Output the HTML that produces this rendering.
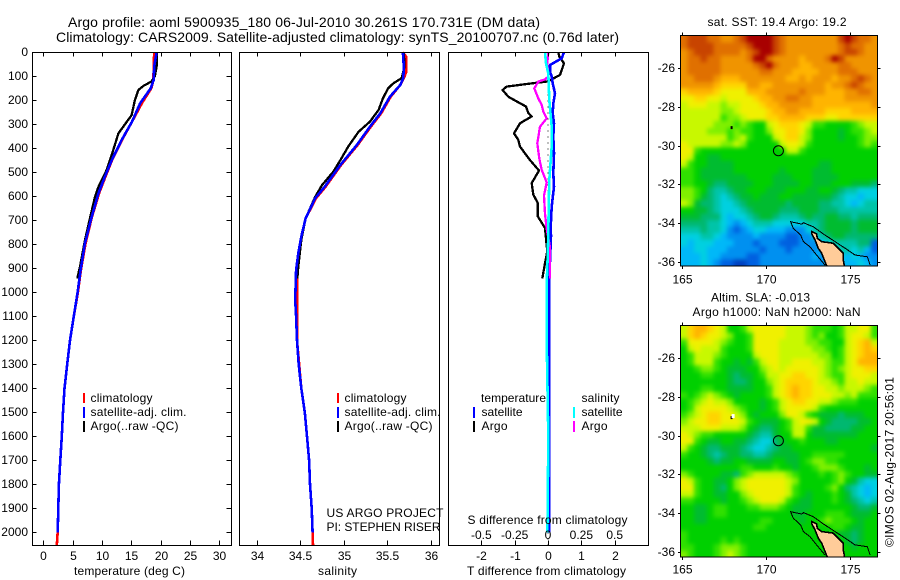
<!DOCTYPE html>
<html lang="en">
<head>
<meta charset="utf-8">
<title>Argo profile</title>
<style>
html,body{margin:0;padding:0;background:#fff;}
svg{display:block;}
text{font-family:"Liberation Sans",sans-serif;font-size:12px;fill:#000;}
</style>
</head>
<body>
<svg id="fig" xmlns="http://www.w3.org/2000/svg" width="900" height="580" viewBox="0 0 900 580">
<defs>
<clipPath id="clip-sst"><rect x="681" y="35.7" width="196.3" height="230.3"/></clipPath>
<clipPath id="clip-sla"><rect x="681" y="325.7" width="196.3" height="231.3"/></clipPath>
<filter id="field-soften" color-interpolation-filters="sRGB" x="-5%" y="-5%" width="110%" height="110%"><feGaussianBlur stdDeviation="2"/></filter>
</defs>
<text x="68" y="27" style="font-size:14px" textLength="472" lengthAdjust="spacing">Argo profile: aoml 5900935_180 06-Jul-2010 30.261S 170.731E (DM data)</text>
<text x="56" y="42" style="font-size:14px" textLength="563" lengthAdjust="spacing">Climatology: CARS2009. Satellite-adjusted climatology: synTS_20100707.nc (0.76d later)</text>
<g id="layer-maps"></g>
<g id="layer-lines"></g>
<g id="layer-axes"></g>

<text x="74" y="575" textLength="111" lengthAdjust="spacing">temperature (deg C)</text>
<text x="318" y="575" textLength="39" lengthAdjust="spacing">salinity</text>
<text x="467" y="575" textLength="159" lengthAdjust="spacing">T difference from climatology</text>
<text x="467.5" y="524" textLength="160" lengthAdjust="spacing">S difference from climatology</text>

<g>
<rect x="83" y="393" width="2" height="10" fill="#f00"/>
<text x="90.5" y="402" textLength="62" lengthAdjust="spacing">climatology</text>
<rect x="83" y="407" width="2" height="11" fill="#00f"/>
<text x="90.5" y="416" textLength="96" lengthAdjust="spacing">satellite-adj. clim.</text>
<rect x="83" y="421" width="2" height="11" fill="#000"/>
<text x="90.5" y="430" textLength="88" lengthAdjust="spacing">Argo(..raw -QC)</text>
</g>
<g>
<rect x="337" y="393" width="2" height="10" fill="#f00"/>
<text x="344.5" y="402" textLength="62" lengthAdjust="spacing">climatology</text>
<rect x="337" y="407" width="2" height="11" fill="#00f"/>
<text x="344.5" y="416" textLength="96" lengthAdjust="spacing">satellite-adj. clim.</text>
<rect x="337" y="421" width="2" height="11" fill="#000"/>
<text x="344.5" y="430" textLength="88" lengthAdjust="spacing">Argo(..raw -QC)</text>
</g>
<text x="326.5" y="517" textLength="117" lengthAdjust="spacing">US ARGO PROJECT</text>
<text x="326.5" y="531" textLength="114" lengthAdjust="spacing">PI: STEPHEN RISER</text>

<g>
<text x="481" y="402" textLength="65" lengthAdjust="spacing">temperature</text>
<text x="581.5" y="402" textLength="38" lengthAdjust="spacing">salinity</text>
<rect x="473" y="407" width="2" height="11" fill="#00f"/>
<text x="481.5" y="416" textLength="41" lengthAdjust="spacing">satellite</text>
<rect x="473" y="421" width="2" height="11" fill="#000"/>
<text x="481.5" y="430" textLength="26" lengthAdjust="spacing">Argo</text>
<rect x="573" y="407" width="2" height="11" fill="#0ff"/>
<text x="581.5" y="416" textLength="41" lengthAdjust="spacing">satellite</text>
<rect x="573" y="421" width="2" height="11" fill="#f0f"/>
<text x="581.5" y="430" textLength="26" lengthAdjust="spacing">Argo</text>
</g>

<text x="707.5" y="26" textLength="139" lengthAdjust="spacing">sat. SST: 19.4  Argo: 19.2</text>
<text x="711" y="301.5" textLength="99" lengthAdjust="spacing">Altim. SLA: -0.013</text>
<text x="692.5" y="316" textLength="168" lengthAdjust="spacing">Argo h1000: NaN h2000: NaN</text>
<text transform="translate(893.5,547) rotate(-90)" textLength="170" lengthAdjust="spacing">©IMOS 02-Aug-2017 20:56:01</text>
</svg>

<script>
// ---------- profile data (depth in m, temperature in deg C, salinity in psu) ----------
const depthTicks = [0,100,200,300,400,500,600,700,800,900,1000,1100,1200,1300,1400,1500,1600,1700,1800,1900,2000];
const tempTicks = [0,5,10,15,20,25,30];
const salTicks = [34,34.5,35,35.5,36];
const salTickLabels = ['34','34.5','35','35.5','36'];
const tDiffTicks = [-2,-1,0,1,2];
const sDiffTicks = [-0.5,-0.25,0,0.25,0.5];
const sDiffTickLabels = ['-0.5','-0.25','0','0.25','0.5'];
const lonTicks = [165,170,175];
const latTicks = [-26,-28,-30,-32,-34,-36];

const climTempDepth = [0,60,115,150,212,290,365,450,518,587,685,795,907,1000,1100,1200,1300,1400,1500,1600,1700,1800,1900,2000,2053];
const climTemp = [18.9,18.8,18.75,18.4,16.8,15.1,13.4,11.7,10.6,9.5,8.3,7.2,6.4,5.9,5.2,4.55,4.07,3.62,3.35,3.15,2.9,2.65,2.55,2.45,2.3];
const satTempDepth = [0,60,115,150,212,290,365,450,518,587,685,795,907,1000,1100,1200,1300,1400,1500,1600,1700,1800,1900,2000];
const satTemp = [19.3,18.9,18.8,18.3,16.5,15.1,13.35,11.65,10.5,9.4,8.25,7.1,6.35,5.85,5.2,4.55,4.07,3.62,3.35,3.15,2.9,2.65,2.55,2.45];
const argoTempDepth = [0,60,100,122,140,157,199,262,290,338,428,490,560,602,685,782,893,942];
const argoTemp = [19.3,19.3,19.0,18.4,17.05,16.2,15.6,15.05,14.2,12.8,11.65,10.8,9.4,8.8,8.0,7.1,6.25,5.8];

const climSalDepth = [0,20,80,108,136,185,254,310,386,469,560,608,692,768,837,907,1032,1200,1400,1500,1600,1700,1800,1900,2000,2053];
const climSal = [35.68,35.72,35.72,35.69,35.65,35.54,35.43,35.31,35.16,34.97,34.79,34.68,34.56,34.51,34.48,34.46,34.46,34.46,34.51,34.55,34.576,34.6,34.61,34.63,34.64,34.645];
const satSalDepth = [0,60,108,136,185,254,310,386,469,560,608,692,768,837,907,1032,1100,1200,1300,1400,1500,1600,1700,1800,1900,2000];
const satSal = [35.68,35.69,35.685,35.65,35.53,35.42,35.3,35.15,34.96,34.78,34.67,34.56,34.51,34.476,34.45,34.44,34.45,34.46,34.48,34.51,34.55,34.576,34.6,34.61,34.63,34.64];
const argoSalDepth = [0,60,108,129,150,192,240,289,331,393,449,497,553,602,692,782,893,942];
const argoSal = [35.69,35.7,35.665,35.57,35.51,35.45,35.4,35.3,35.17,35.05,34.96,34.88,34.75,34.67,34.56,34.51,34.476,34.465];

const argoTDiffDepth = [0,18,46,74,94,113,122,132,143,157,185,201,226,253,267,296,338,365,393,449,493,545,593,627,683,732,775,778,829,879,942];
const argoTDiff = [0.31,0.34,0.48,0.41,0.36,0.11,-0.04,-0.64,-1.24,-1.36,-1.19,-0.99,-0.66,-0.59,-0.49,-0.84,-1.02,-0.89,-0.84,-0.54,-0.27,-0.49,-0.44,-0.31,-0.31,-0.09,-0.06,-0.06,-0.02,-0.09,-0.17];
const satTDiffDepth = [0,25,53,81,101,129,171,213,254,296,351,421,504,560,643,726,764,868,1000,1200,1400,1700,2000];
const satTDiff = [0.48,0.41,0.06,0.06,0.11,0.14,0.21,0.16,0.14,0.18,0.16,0.18,0.16,0.18,0.11,0.08,0.09,0.06,0.03,0.03,0.03,0.04,0.04];
const argoSDiffDepth = [0,46,101,113,122,150,192,219,247,275,310,379,443,490,542,597,672,736,812,891,942];
const argoSDiff = [0.0025,-0.005,0.0025,-0.0225,-0.0725,-0.1025,-0.0725,-0.0475,-0.035,-0.01,-0.06,-0.08,-0.065,-0.0475,-0.01,-0.03,-0.0225,-0.01,0.015,0.015,0.015];
const satSDiffDepth = [0,46,88,199,310,393,532,643,755,851,962,1200,1600,1900,2000];
const satSDiff = [-0.0225,-0.015,0.0025,0.01,0.0275,0.0275,0.01,0.005,0.0025,-0.0025,-0.01,-0.01,0.0025,-0.0025,-0.005];

// ---------- satellite map grids: each letter is one colour level on the map scale ----------
const colourLevels = 'abcdefghijklmnopqrs';
const levelColours = ['#a80000','#c84400','#e07000','#f09400','#ffb400','#ffd400','#f0f000','#c8f800','#80f000','#30e000','#00d000','#00bc30','#00b870','#00c4a8','#00d0e0','#00b8f8','#0090f0','#0060e0','#0040c0'];
const sstRows = [
'cbbbccddcbaaaabcddddddddbabccd',
'cbbbbcccccbaaabcddddddddcbccdd',
'dcbbbccccdcbaabcddddddddcbbcdd',
'dccbccddddcaacddddedddcabdddd',
'dcccccdddddcbacdddeeddddccdddd',
'dcccccddddddccdddeeeedddcccdd',
'ddcccdeeedddddddeededddeddcbcd',
'dddddeffffddeeddddddddeddcbcd',
'feeeefggggeeedddddcdddeeeddccd',
'ggffgghggggfeeddccddeeeeedddd',
'hggghhihhgggfeedddddeeeeeeeeed',
'hhhhhhiihggggfeeddeeeeffffeeee',
'hhhhhhjiihgggffeeeefffggffffff',
'hhhhhiiijijkkhgfffghjjkkkkjihh',
'hhhhiiijijjkkiggffgikkkklkjjih',
'hhhhhhhjihjkkkhgffhikkkklkkjii',
'ghhhhhiihikkkkkhgghjkkkkkkkjij',
'ggjkkkkkkkkkkkkkhhjkkkkkkkkkkk',
'ghkkllkkkkkkkkkkkkkkkkkkkkkkkk',
'hjkkllllkkkkkkkkkkkkkllkkkkkkk',
'jjklllllkkkkkkklkkkklllkkkkkkk',
'jjklllllllkkkklllkkkllllkkkkkk',
'jjkklmmllllkkkllllkklllkkklllm',
'iijkmnnmllkkklllkkkllkklmnnoo',
'iijlmnonmllklllkkllllllmnoopo',
'hilmmnoonmllllllmllllmmnnoponn',
'kkllmnooonmllllmmmlllmmmnnnnnn',
'lllmmmopoonmllmnnnmlmmllmmnmmm',
'mmmmnnopqponnnooooonnmllllmlll',
'nnnmnnoqrqpoopppqqqonmllllmlll',
'ooonnopqqqqpqqqqrrqqonmllmmmmm',
'opooopppqqqrqqqrrrqqqponnnnmmr',
'ppoopppqqqqqrqqqrqqqqpoonnonpr',
'pppoppqqqqrrqqqqqqqqpqooopopq',
'pppopqrrssrrqqqqqqqqqqpppppopq'
];
const slaRows = [
'hfeefghkkjhggggghhhijjjkjhhggj',
'hfefgghikkjggggghhhijikkjhgghj',
'jgggghijkkjgggghhhhiijjkkhgfeh',
'khghhhjkkkjgggghhhhhiijkjhgfef',
'kjhhhijkkkkhggghhhhhhiikjhgfee',
'kjhhhjkklkljhgghhggghhijjhgeee',
'kkjiijklllkkihghggggghijihggff',
'kkkjjkklmllkjhhggffgghijjhgggh',
'kkkkkkklmmlkkihgffffghhijhhghh',
'kkkjjkkllllkkjhgfeffgghhihhhij',
'jkjihijklkkkkjhgfeffggghhihjjj',
'kjihghhikkkklkjhgffgghhijjjkkk',
'kjhgggghijkklkjhgggghjkkkkkkkk',
'jihgffgghiklkkkigghjklllmlllkk',
'ihggffggghjklllkjhgghklmmmmllk',
'hhhggghhhiklmmlkjhhjllmmmmllkk',
'ghijjkkkkklmnnlkkhhklllllllkkk',
'ggjkllkkllmnoomlkkjkkkllkkkkkk',
'hjklmmlllmnoonmllkkkkkkkkkkkkl',
'jkklmnmllmmnnmllllkkjjjjjkkkkk',
'kkkklmllkkllllkkllkjiijjkkkkkk',
'kkkkkkkkkjjkkkjkklkkjiiijkkklk',
'ijkkkkllmjihhhhhijkkkjkjijkkll',
'ghjkkllkihgggggghikkkkkjiklnoo',
'ggjkklmkihgggggghjkkkkjikmnopo',
'hhjkkllkkihggggghjklkkkjklnopo',
'jjkkkklkkjihggghjkllkkkjklmnon',
'kkllkjjkkkjjiiijklllkkkkkklmml',
'kkllkjjkkkkkkkkkkllkkkjjjklllk',
'kkllkkkkkkkkjjkkkklkkjijjjklkk',
'kkkkkkkkkkkjjkkkkkkkkkkjjkllkk',
'jkkkkkkkkkkkkkkkkkkkkkkkllmlkk',
'jkkkkkjkjkkkkkkkkkkkkkkkklmlkk',
'jjkkkjiiijkkkkkkkkkkkkkkkklkkk',
'ijkkkjihijkkkkkkkkkkkkkkkkkkkk'
];

// ---------- geography (lon / lat) ----------
const reefLon = [173.51,173.01,172.61,172.22,172.06,171.62,171.46,172.12,172.22,172.81,173.41,174.11,174.8,175.3,176.03,176.2];
const reefLat = [-36.17,-35.65,-35.22,-34.96,-34.62,-34.27,-33.93,-34.05,-33.98,-34.19,-34.56,-34.96,-35.35,-35.65,-35.74,-36.17];
const landLon = [172.72,173.01,173.05,173.31,174.0,174.3,174.6,174.6,174.7,173.7,173.31,173.11,172.91,172.72];
const landLat = [-34.44,-34.56,-34.79,-34.96,-35.04,-35.3,-35.56,-35.91,-36.4,-36.4,-35.56,-35.3,-34.87,-34.56];
const floatLon = 170.731;
const floatLat = -30.261;
const islandLon = 167.94;
const islandLat = -29.04;

// ---------- axis functions ----------
const yDepth = d => 52.3 + d * 0.24;
const xTemp = t => 43.3 + t * 5.87;
const xSal = s => 257 + (s - 34) * 86.85;
const xTDiff = v => 548 + v * 33.35;
const xSDiff = v => 548 + v * 133.4;
const xLon = lon => 682.3 + (lon - 165) * 16.77;
const ySst = lat => 68.3 + (-26 - lat) * 19.35;
const ySla = lat => 358.3 + (-26 - lat) * 19.34;

const NS = 'http://www.w3.org/2000/svg';
const layerMaps = document.getElementById('layer-maps');
const layerLines = document.getElementById('layer-lines');
const layerAxes = document.getElementById('layer-axes');

function mk(tag, parent, attrs) {
  const el = document.createElementNS(NS, tag);
  for (const k in attrs) el.setAttribute(k, attrs[k]);
  parent.appendChild(el);
  return el;
}

function drawLine(depths, values, xFn, colour, name, width) {
  const pts = depths.map((d, i) => xFn(values[i]).toFixed(1) + ',' + yDepth(d).toFixed(1)).join(' ');
  const el = mk('polyline', layerLines, {points: pts, fill: 'none', stroke: colour, 'stroke-width': width, 'shape-rendering': 'crispEdges', 'stroke-linejoin': 'round'});
  
  
}

// profile series
drawLine(climTempDepth, climTemp, xTemp, '#f00', 'temperature-climatology-line', 2.6);
drawLine(argoTempDepth, argoTemp, xTemp, '#000', 'temperature-argo-line', 2.3);
drawLine(satTempDepth, satTemp, xTemp, '#00f', 'temperature-satellite-line', 2.6);
drawLine(climSalDepth, climSal, xSal, '#f00', 'salinity-climatology-line', 2.6);
drawLine(argoSalDepth, argoSal, xSal, '#000', 'salinity-argo-line', 2.3);
drawLine(satSalDepth, satSal, xSal, '#00f', 'salinity-satellite-line', 2.6);

// dotted zero line in the difference panel
const zeroLine = mk('line', layerLines, {x1: xTDiff(0), x2: xTDiff(0), y1: yDepth(0), y2: 545, stroke: '#000', 'stroke-width': 1, 'stroke-dasharray': '1 5', 'shape-rendering': 'crispEdges'});



drawLine(argoTDiffDepth, argoTDiff, xTDiff, '#000', 't-difference-argo-line', 2.3);
drawLine(satTDiffDepth, satTDiff, xTDiff, '#00f', 't-difference-satellite-line', 2.6);
drawLine(argoSDiffDepth, argoSDiff, xSDiff, '#f0f', 's-difference-argo-line', 2.3);
drawLine(satSDiffDepth, satSDiff, xSDiff, '#0ff', 's-difference-satellite-line', 2.6);

// profile panel frames and ticks
function frame(x0, x1, y0, y1, name) {
  const r = mk('rect', layerAxes, {x: x0, y: y0, width: x1 - x0, height: y1 - y0, fill: 'none', stroke: '#000', 'stroke-width': 1, 'shape-rendering': 'crispEdges'});
  
  
}
function tickLine(x1, y1, x2, y2) {
  const t = mk('line', layerAxes, {x1: x1, y1: y1, x2: x2, y2: y2, stroke: '#000', 'stroke-width': 1, 'shape-rendering': 'crispEdges'});
  
  
}
function tickText(x, y, str, anchor) {
  const t = mk('text', layerAxes, {x: x, y: y, 'text-anchor': anchor});
  t.textContent = str;
  
  
}

frame(32.5, 231.5, 52.5, 545.5, 'temperature-panel-frame');
frame(239.5, 439.5, 52.5, 545.5, 'salinity-panel-frame');
frame(448.5, 648.5, 52.5, 545.5, 'difference-panel-frame');

depthTicks.forEach(d => {
  const y = Math.round(yDepth(d)) + 0.5;
  tickLine(32.5, y, 36.5, y);
  tickLine(226.5, y, 231.5, y);
  tickText(28, y + 3.7, String(d), 'end');
});
tempTicks.forEach(v => {
  const x = Math.round(xTemp(v)) + 0.5;
  tickLine(x, 52.5, x, 56.5);
  tickLine(x, 540.5, x, 545.5);
  tickText(x, 560, String(v), 'middle');
});
salTicks.forEach((v, i) => {
  const x = Math.round(xSal(v)) + 0.5;
  tickLine(x, 52.5, x, 56.5);
  tickLine(x, 540.5, x, 545.5);
  tickText(x, 560, salTickLabels[i], 'middle');
});
tDiffTicks.forEach(v => {
  const x = Math.round(xTDiff(v)) + 0.5;
  tickLine(x, 52.5, x, 56.5);
  tickLine(x, 540.5, x, 545.5);
  tickText(x, 560, String(v), 'middle');
});
sDiffTicks.forEach((v, i) => {
  tickText(xSDiff(v), 539, sDiffTickLabels[i], 'middle');
});

// maps
function drawMap(rows, yLat, top, bottom, clipId, name, labelY) {
  const g = mk('g', layerMaps, {'clip-path': 'url(#' + clipId + ')'});
  
  
  const field = mk('g', g, {filter: 'url(#field-soften)'});
  
  
  const left = 681, right = 877.3;
  const pad = 10;
  const n = 30;
  rows.forEach((row, r) => {
    let y0 = top + (bottom - top) * r / rows.length;
    let y1 = top + (bottom - top) * (r + 1) / rows.length;
    if (r === 0) y0 -= pad;
    if (r === rows.length - 1) y1 += pad;
    for (let c = 0; c < n; c++) {
      const ch = row[Math.min(c, row.length - 1)];
      const lvl = colourLevels.indexOf(ch);
      let x0 = left + (right - left) * c / n;
      let x1 = left + (right - left) * (c + 1) / n;
      if (c === 0) x0 -= pad;
      if (c === n - 1) x1 += pad;
      const cell = mk('rect', field, {x: x0.toFixed(2), y: y0.toFixed(2), width: (x1 - x0 + 0.5).toFixed(2), height: (y1 - y0 + 0.5).toFixed(2), fill: levelColours[lvl], 'shape-rendering': 'crispEdges'});
      
      
    }
  });
  const land = mk('polygon', g, {points: landLon.map((v, i) => xLon(v).toFixed(1) + ',' + yLat(landLat[i]).toFixed(1)).join(' '), fill: '#ffcc99', stroke: '#000', 'stroke-width': 1.6, 'shape-rendering': 'crispEdges'});
  
  
  const reef = mk('polyline', g, {points: reefLon.map((v, i) => xLon(v).toFixed(1) + ',' + yLat(reefLat[i]).toFixed(1)).join(' '), fill: 'none', stroke: '#000', 'stroke-width': 1, 'shape-rendering': 'crispEdges'});
  
  
  const isle = mk('rect', g, {x: xLon(islandLon) - 1, y: yLat(islandLat) - 1, width: 2, height: 3, fill: '#000'});
  
  
  const c = mk('circle', g, {cx: xLon(floatLon), cy: yLat(floatLat), r: 5, fill: 'none', stroke: '#000', 'stroke-width': 1});
  
  
  frame(left - 0.5, right, top, bottom, name + '-frame');
  lonTicks.forEach(v => {
    const x = Math.round(xLon(v)) + 0.5;
    tickLine(x, top - 3, x, top);
    tickLine(x, bottom, x, bottom + 3);
    tickText(x, labelY, String(v), 'middle');
  });
  latTicks.forEach(v => {
    const y = Math.round(yLat(v)) + 0.5;
    tickLine(left - 3, y, left, y);
    tickLine(right, y, right + 3, y);
    tickText(675, y + 3.7, String(v), 'end');
  });
}
drawMap(sstRows, ySst, 35.7, 266, 'clip-sst', 'sst-map', 283.5);
drawMap(slaRows, ySla, 325.7, 557, 'clip-sla', 'sla-map', 573.5);

const slaIsle = mk('rect', layerMaps, {x: xLon(islandLon), y: ySla(islandLat) - 3, width: 3, height: 4, fill: '#fff'});


</script>
</body>
</html>
